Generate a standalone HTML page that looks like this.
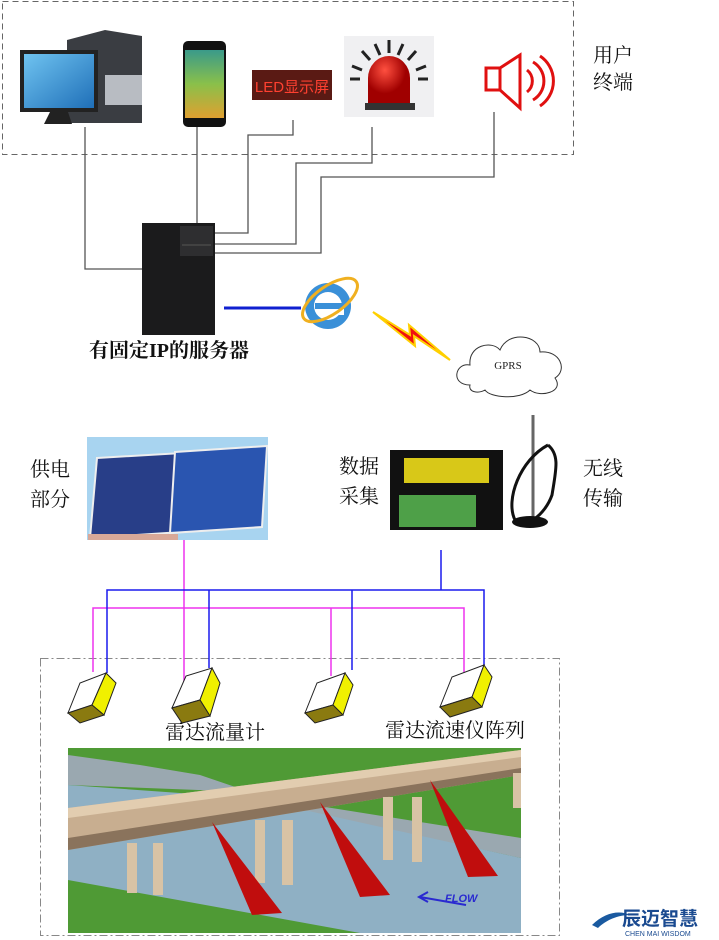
<!DOCTYPE html>
<html><head><meta charset="utf-8"><style>
body{margin:0;background:#fff;width:719px;height:940px;overflow:hidden;font-family:"Liberation Serif","Noto Serif CJK SC","Noto Sans CJK SC",serif;}
.t{position:absolute;font-size:20px;color:#111;line-height:30px;white-space:nowrap}
</style></head><body>
<svg width="719" height="940" style="position:absolute;left:0;top:0">
<defs>
<linearGradient id="scr" x1="0" y1="0" x2="1" y2="1"><stop offset="0" stop-color="#6fc3f0"/><stop offset="1" stop-color="#1f6fb8"/></linearGradient>
<linearGradient id="ph" x1="0" y1="0" x2="0" y2="1"><stop offset="0" stop-color="#3a9a8a"/><stop offset="0.5" stop-color="#8ac04a"/><stop offset="1" stop-color="#e0a030"/></linearGradient>
<radialGradient id="red" cx="0.4" cy="0.3"><stop offset="0" stop-color="#ff5040"/><stop offset="1" stop-color="#a00000"/></radialGradient>
</defs>
<rect x="2.5" y="1.5" width="571" height="153" fill="none" stroke="#666" stroke-dasharray="6,4"/>
<rect x="40.5" y="658.5" width="519" height="277" fill="none" stroke="#888" stroke-dasharray="8,3,2,3"/>
<g fill="none" stroke="#555" stroke-width="1.3">
<polyline points="85,127 85,269 142,269"/>
<polyline points="197,127 197,223"/>
<polyline points="293,120 293,135 248,135 248,233 215,233"/>
<polyline points="372,127 372,163 296,163 296,244 215,244"/>
<polyline points="494,112 494,177 321,177 321,253 215,253"/>
</g>
<polygon points="67,40 105,30 142,36 142,123 105,123 67,123" fill="#3a3d42"/>
<rect x="105" y="75" width="37" height="30" fill="#b8bcc2"/>
<rect x="20" y="50" width="78" height="62" fill="#222"/>
<rect x="24" y="54" width="70" height="54" fill="url(#scr)"/>
<polygon points="50,112 68,112 72,124 44,124" fill="#222"/>
<rect x="183" y="41" width="43" height="86" rx="5" fill="#111"/>
<rect x="185" y="50" width="39" height="68" fill="url(#ph)"/>
<rect x="252" y="70" width="80" height="30" fill="#5a1a14"/>
<text x="292" y="92" font-size="15" fill="#ff4030" text-anchor="middle" font-family="Liberation Sans,Noto Sans CJK SC,sans-serif">LED显示屏</text>
<rect x="344" y="36" width="90" height="81" fill="#f0f0f2"/>
<path d="M368,103 L368,78 A21,22 0 0 1 410,78 L410,103Z" fill="url(#red)"/>
<rect x="365" y="103" width="50" height="7" fill="#333"/>
<g stroke="#222" stroke-width="3">
<line x1="389" y1="40" x2="389" y2="53"/><line x1="375" y1="44" x2="380" y2="55"/><line x1="403" y1="44" x2="398" y2="55"/>
<line x1="362" y1="51" x2="370" y2="60"/><line x1="416" y1="51" x2="408" y2="60"/>
<line x1="352" y1="66" x2="362" y2="70"/><line x1="426" y1="66" x2="416" y2="70"/>
<line x1="350" y1="79" x2="360" y2="79"/><line x1="418" y1="79" x2="428" y2="79"/>
</g>
<g fill="none" stroke="#e01010" stroke-width="3">
<rect x="486" y="68" width="14" height="22"/>
<polygon points="500,68 520,55 520,108 500,90"/>
<path d="M527,70 A14,14 0 0 1 527,92"/>
<path d="M533,62 A22,22 0 0 1 533,100"/>
<path d="M540,56 A30,30 0 0 1 540,106"/>
</g>
<rect x="142" y="223" width="73" height="112" fill="#1b1b1c"/>
<rect x="180" y="226" width="33" height="30" fill="#2e2e30"/>
<line x1="182" y1="245" x2="211" y2="245" stroke="#555"/>
<line x1="224" y1="308" x2="301" y2="308" stroke="#1020d0" stroke-width="3"/>
<circle cx="328" cy="306" r="23" fill="#3a90d8"/>
<circle cx="328" cy="306" r="14" fill="#fff"/>
<rect x="315" y="303" width="27" height="6" fill="#3a90d8"/>
<rect x="330" y="309" width="14" height="6" fill="#fff"/>
<ellipse cx="330" cy="300" rx="32" ry="14" fill="none" stroke="#f0b020" stroke-width="3" transform="rotate(-35 330 300)"/>
<polygon points="373,312 410,335 409,325 450,360 414,336 415,346" fill="#f01010" stroke="#ffd000" stroke-width="2"/>
<path d="M470,385 C450,385 455,362 470,365 C468,345 492,340 500,350 C508,330 540,335 540,352 C560,350 568,370 555,378 C565,392 540,398 530,390 C520,400 490,398 485,390 C478,394 468,392 470,385Z" fill="#fff" stroke="#333"/>
<text x="508" y="369" font-size="11" text-anchor="middle" fill="#222">GPRS</text>
<rect x="87" y="437" width="181" height="103" fill="#a8d4f0"/>
<polygon points="97,458 182,453 182,532 90,538" fill="#283e88" stroke="#eee" stroke-width="2"/>
<polygon points="175,452 267,446 262,527 170,533" fill="#2a55b0" stroke="#eee" stroke-width="2"/>
<rect x="88" y="534" width="90" height="6" fill="#d8a898"/>
<rect x="390" y="450" width="113" height="80" fill="#111"/>
<rect x="404" y="458" width="85" height="25" fill="#d8c818"/>
<rect x="399" y="495" width="77" height="32" fill="#4ea048"/>
<line x1="533" y1="415" x2="533" y2="520" stroke="#666" stroke-width="3"/>
<path d="M548,445 C520,460 505,500 515,520 C525,530 545,515 552,495 C556,470 560,455 548,445" fill="none" stroke="#111" stroke-width="3"/>
<ellipse cx="530" cy="522" rx="18" ry="6" fill="#111"/>
<g fill="none" stroke-width="1.5">
<polyline stroke="#ee33ee" points="184,540 184,690"/>
<polyline stroke="#ee33ee" points="93,672 93,608 464,608 464,672"/>
<line stroke="#ee33ee" x1="331" y1="608" x2="331" y2="676"/>
<polyline stroke="#1a1aee" points="107,673 107,590 484,590 484,665"/>
<line stroke="#1a1aee" x1="209" y1="590" x2="209" y2="668"/>
<line stroke="#1a1aee" x1="352" y1="590" x2="352" y2="670"/>
<line stroke="#1a1aee" x1="441" y1="550" x2="441" y2="590"/>
</g>
<g stroke="#222" stroke-width="1">
<g transform="translate(68,673)"><polygon points="0,40 12,10 38,0 24,32" fill="#fff"/><polygon points="38,0 48,10 36,42 24,32" fill="#f0f000"/><polygon points="0,40 24,32 36,42 12,50" fill="#8a7a10"/></g>
<g transform="translate(172,668)"><polygon points="0,40 14,8 40,0 28,32" fill="#fff"/><polygon points="40,0 48,15 38,48 28,32" fill="#f0f000"/><polygon points="0,40 28,32 38,48 10,55" fill="#8a7a10"/></g>
<g transform="translate(305,673)"><polygon points="0,40 12,10 40,0 28,32" fill="#fff"/><polygon points="40,0 48,12 38,42 28,32" fill="#f0f000"/><polygon points="0,40 28,32 38,42 10,50" fill="#8a7a10"/></g>
<g transform="translate(440,665)"><polygon points="0,42 12,12 44,0 32,32" fill="#fff"/><polygon points="44,0 52,12 42,42 32,32" fill="#f0f000"/><polygon points="0,42 32,32 42,42 10,52" fill="#8a7a10"/></g>
</g>
<!-- bridge scene -->
<rect x="68" y="748" width="453" height="185" fill="#4f9a35"/>
<polygon points="68,755 140,765 200,775 250,792 68,785" fill="#9aa8b0"/>
<polygon points="250,795 521,838 521,858 250,800" fill="#9aa8b0"/>
<polygon points="68,785 250,798 521,858 521,933 360,933 68,880" fill="#8fb0c4"/>
<polygon points="68,808 521,750 521,775 68,850" fill="#c8ae90"/>
<polygon points="68,808 521,750 521,757 68,818" fill="#e2cdb0"/>
<polygon points="68,838 521,768 521,775 68,850" fill="#8a735c"/>
<g fill="#d8c3a5"><rect x="127" y="843" width="10" height="50"/><rect x="153" y="843" width="10" height="52"/><rect x="255" y="820" width="10" height="63"/><rect x="282" y="820" width="11" height="65"/><rect x="383" y="797" width="10" height="63"/><rect x="412" y="797" width="10" height="65"/><rect x="513" y="773" width="8" height="35"/></g>
<g fill="#c00d0d"><polygon points="212,822 282,913 252,915"/><polygon points="320,802 390,895 360,897"/><polygon points="430,780 498,876 468,877"/></g>
<text x="445" y="902" font-size="11" fill="#2a2ad0" font-style="italic" font-weight="bold" font-family="Liberation Sans,sans-serif">FLOW</text>
<line x1="420" y1="897" x2="466" y2="905" stroke="#2a2ad0" stroke-width="2"/>
<polyline points="428,892 419,897 428,902" fill="none" stroke="#2a2ad0" stroke-width="2"/>
<path d="M592,925 C605,912 620,910 630,915 C618,915 606,920 598,928Z" fill="#1a5aa0"/>
<text x="622" y="925" font-size="19" fill="#1a4a90" font-weight="bold" font-family="Liberation Sans,Noto Sans CJK SC,sans-serif">辰迈智慧</text>
<text x="625" y="936" font-size="7" fill="#1a4a90" font-family="Liberation Sans,sans-serif">CHEN MAI WISDOM</text>
</svg>
<div class="t" style="left:593px;top:43px;line-height:27px">用户<br>终端</div>
<div class="t" style="left:89px;top:336px;font-weight:bold">有固定IP的服务器</div>
<div class="t" style="left:30px;top:455px">供电<br>部分</div>
<div class="t" style="left:339px;top:452px">数据<br>采集</div>
<div class="t" style="left:583px;top:454px">无线<br>传输</div>
<div class="t" style="left:165px;top:718px">雷达流量计</div>
<div class="t" style="left:385px;top:716px">雷达流速仪阵列</div>
</body></html>
